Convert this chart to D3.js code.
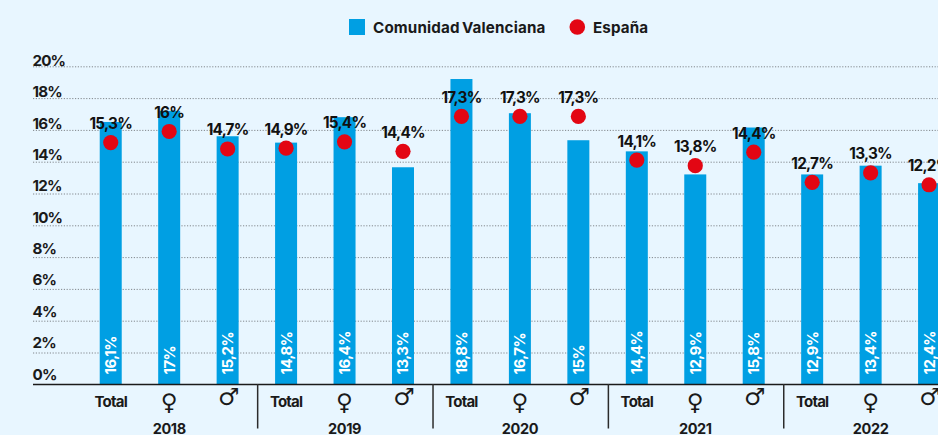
<!DOCTYPE html>
<html lang="es"><head><meta charset="utf-8">
<script src="https://cdn.jsdelivr.net/npm/d3@7/dist/d3.min.js"></script>
<style>
html,body{margin:0;padding:0;background:#e8f6ff;overflow:hidden}
svg{display:block}
text{font-family:Inter,"Liberation Sans",sans-serif}
</style></head><body><div id="chart"></div>
<script>
const groups = ["Total","♀","♂"];
const years = ["2018","2019","2020","2021","2022"];
const yTicks = [0,2,4,6,8,10,12,14,16,18,20];
// heights as drawn, read against the axis
const comunidadDrawn = [16.5,17.2,15.6,15.2,16.8,13.65,19.2,17.05,15.35,14.65,13.2,16.15,13.2,13.75,12.65];
const comunidadLabels = ["16,1%","17%","15,2%","14,8%","16,4%","13,3%","18,8%","16,7%","15%","14,4%","12,9%","15,8%","12,9%","13,4%","12,4%"];
const espanaDrawn = [15.2,15.9,14.8,14.85,15.25,14.65,16.85,16.85,16.85,14.1,13.75,14.6,12.7,13.3,12.55];
const espanaLabels = ["15,3%","16%","14,7%","14,9%","15,4%","14,4%","17,3%","17,3%","17,3%","14,1%","13,8%","14,4%","12,7%","13,3%","12,2%"];

const W=938,H=435, BLUE="#009fe3", RED="#e30613", INK="#1a1a1a";
const svg=d3.select("#chart").append("svg").attr("width",W).attr("height",H).attr("viewBox",`0 0 ${W} ${H}`);
svg.append("rect").attr("width",W).attr("height",H).attr("fill","#e8f6ff");

const y=d3.scaleLinear().domain([0,20]).range([384.3,66.3]);
// the printed tick labels sit on a slightly tighter ladder than the grid
const yLabel=d3.scaleLinear().domain([0,20]).range([379.5,65.8]);
const keys=d3.range(comunidadDrawn.length);
const x=d3.scaleBand().domain(keys).range([81.5,958.3]).padding(0);
const cx=i=>x(i)+x.bandwidth()/2;
const barW=22;

// grid
svg.append("g").selectAll("line").data(yTicks.filter(d=>d>0)).join("line")
  .attr("x1",33).attr("x2",W).attr("y1",d=>y(d)+.5).attr("y2",d=>y(d)+.5)
  .attr("stroke","#777c80").attr("stroke-width",.9).attr("stroke-dasharray","1.2 1.6");
// y labels
svg.append("g").selectAll("text").data(yTicks).join("text")
  .attr("x",32.5).attr("y",d=>yLabel(d)).attr("font-size",15.2).attr("font-weight",700)
  .attr("letter-spacing",-.85).attr("fill",INK).text(d=>d+"%");
// bars
svg.append("g").selectAll("rect").data(keys).join("rect")
  .attr("x",i=>cx(i)-barW/2).attr("width",barW)
  .attr("y",i=>y(comunidadDrawn[i])).attr("height",i=>y(0)-y(comunidadDrawn[i])).attr("fill",BLUE);
// white labels
svg.append("g").selectAll("text").data(keys).join("text")
  .attr("transform",i=>`translate(${cx(i)+5.5},374.5) rotate(-90)`)
  .attr("font-size",15).attr("font-weight",700).attr("letter-spacing",-.55).attr("fill","#fff")
  .text(i=>comunidadLabels[i]);
// dots
svg.append("g").selectAll("circle").data(keys).join("circle")
  .attr("cx",cx).attr("cy",i=>y(espanaDrawn[i])).attr("r",7.6).attr("fill",RED);
// dot labels
svg.append("g").selectAll("text").data(keys).join("text")
  .attr("x",cx).attr("y",i=>y(espanaDrawn[i])-13.5).attr("text-anchor","middle")
  .attr("font-size",15.3).attr("font-weight",700).attr("letter-spacing",-.75).attr("fill","#111")
  .text(i=>espanaLabels[i]);
// axis
svg.append("line").attr("x1",33).attr("x2",W).attr("y1",384.5).attr("y2",384.5).attr("stroke",INK).attr("stroke-width",1.5);
// dividers
svg.append("g").selectAll("line").data(years.slice(1)).join("line")
  .attr("x1",(d,i)=>x((i+1)*3)+.8).attr("x2",(d,i)=>x((i+1)*3)+.8).attr("y1",384).attr("y2",428.5)
  .attr("stroke","#2b2b2b").attr("stroke-width",1.5);
// group labels
svg.append("g").selectAll("text").data(keys).join("text")
  .attr("x",i=>cx(i)+(i%3===2?1:0)).attr("text-anchor","middle").attr("fill",INK)
  .each(function(i){
    const g=groups[i%3], s=d3.select(this);
    if(g==="Total") s.attr("y",407).attr("font-size",15).attr("font-weight",700).attr("letter-spacing",-.8);
    else s.attr("y",g==="♀"?410:405).attr("font-size",g==="♀"?23:24).style("font-family","'DejaVu Sans'");
    s.text(g);
  });
// years
svg.append("g").selectAll("text").data(years).join("text")
  .attr("x",(d,i)=>cx(i*3+1)).attr("y",433.5).attr("text-anchor","middle")
  .attr("font-size",14.5).attr("font-weight",700).attr("letter-spacing",-.4).attr("fill",INK).text(d=>d);
// legend
svg.append("rect").attr("x",349).attr("y",19).attr("width",16).attr("height",16).attr("fill",BLUE);
svg.append("text").attr("x",373).attr("y",33.2).attr("font-size",15.2).attr("font-weight",700).attr("letter-spacing",.15).attr("word-spacing",-1.5).attr("fill",INK).text("Comunidad Valenciana");
svg.append("circle").attr("cx",577.3).attr("cy",27).attr("r",7.8).attr("fill",RED);
svg.append("text").attr("x",593).attr("y",33.2).attr("font-size",15.2).attr("font-weight",700).attr("letter-spacing",.1).attr("fill",INK).text("España");
</script></body></html>
